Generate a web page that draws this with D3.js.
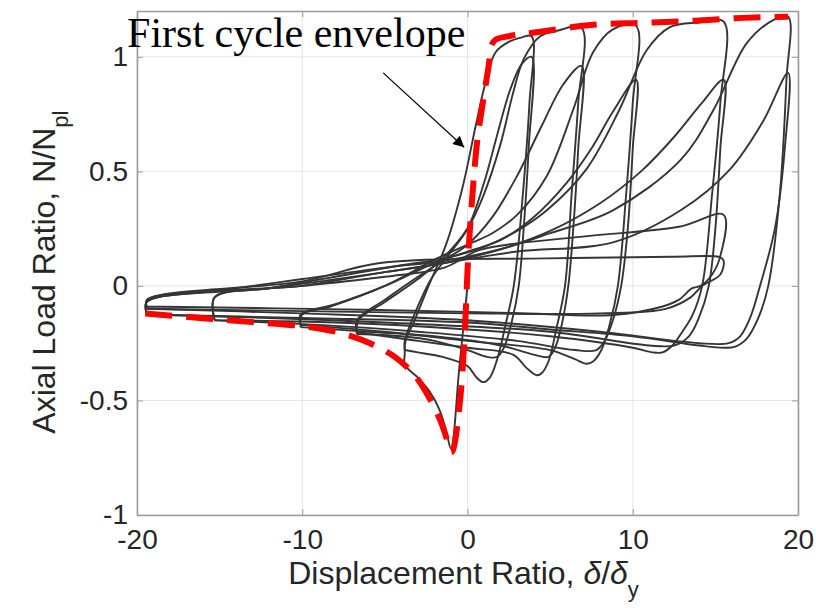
<!DOCTYPE html>
<html>
<head>
<meta charset="utf-8">
<script src="https://cdn.jsdelivr.net/npm/d3@7"></script>
<style>
  body { margin: 0; background: #fff; }
  svg { display: block; }
</style>
</head>
<body>
<svg id="chart"></svg>
<script>
const width = 816, height = 608;
const margin = { top: 11, right: 18, bottom: 93, left: 137 };

// axis ticks
const xTicks = [-20, -10, 0, 10, 20];
const yTicks = [-1, -0.5, 0, 0.5, 1];

// first cycle envelope (red dashed), [delta/delta_y, N/Npl]
const envelope = [[-19.5,-0.12],[-16.2,-0.14],[-13.2,-0.157],[-10.1,-0.175],[-7.7,-0.205],[-5.9,-0.25],
  [-4.4,-0.31],[-3.2,-0.39],[-2.3,-0.49],[-1.66,-0.585],[-1.24,-0.67],[-1.0,-0.725],[-0.9,-0.72],
  [-0.45,-0.5],[-0.15,-0.18],[0.03,0.11],[0.3,0.4],[0.6,0.64],[0.95,0.81],[1.3,0.97],[1.45,1.05],
  [1.7,1.075],[2.5,1.09],[4.4,1.109],[7.6,1.14],[10.6,1.148],[13.6,1.157],[16.7,1.17],[19.4,1.175]];

// hysteresis cycles (grey)
const cycle1 = [[0,0],[-0.5,-0.36],[-1.0,-0.71],[-1.3,-0.63],[-1.7,-0.54],[-2.3,-0.46],[-3.0,-0.40],[-3.8,-0.345],
  [-3.8,-0.30],[-3.75,-0.24],[-3.2,-0.15],[-2.3,0.01],[-1.3,0.18],[-0.3,0.43],[0.5,0.70],[1.1,0.89],[1.7,1.02],
  [2.5,1.065],[3.3,1.085],[3.88,1.09],[3.75,0.8],[3.35,0.4],[2.8,0.0],[2.3,-0.17],[1.8,-0.32],[1.35,-0.40],
  [0.95,-0.42],[0.55,-0.40],[0.0,-0.35],[-1.5,-0.31],[-3.0,-0.29],[-3.8,-0.28]];
const cycle2 = [[-3.8,-0.28],[-3.8,-0.24],[-3.3,-0.14],[-2.2,0.03],[-1.2,0.13],[0,0.25],[1.0,0.45],[1.8,0.66],
  [2.6,0.86],[3.3,0.97],[3.88,1.0],[3.7,0.6],[3.4,0.25],[3.1,0.0],[2.7,-0.15],[2.2,-0.27],[1.8,-0.31],
  [1.2,-0.31],[0,-0.28],[-2,-0.24],[-4,-0.22],[-6.7,-0.21]];
const cycle3 = [[-6.7,-0.21],[-6.6,-0.15],[-5,-0.07],[-3,0.03],[-1.5,0.12],[0,0.25],[0.94,0.39],[2.0,0.62],
  [2.75,0.84],[3.4,0.99],[4.4,1.09],[5.5,1.115],[6.9,1.127],[6.7,0.8],[6.3,0.4],[5.9,0.0],[5.4,-0.18],
  [4.9,-0.33],[4.5,-0.38],[4.2,-0.39],[3.6,-0.36],[2.75,-0.30],[0,-0.27],[-3,-0.24],[-5,-0.22],[-6.7,-0.2]];
const cycle4 = [[-6.7,-0.2],[-6.7,-0.15],[-5,-0.06],[-3,0.04],[-1.5,0.11],[0,0.18],[1.5,0.3],[3,0.48],
  [4.5,0.7],[5.8,0.88],[6.9,0.96],[6.7,0.6],[6.4,0.25],[6.1,0.0],[5.7,-0.17],[5.3,-0.27],[4.9,-0.31],
  [4,-0.3],[2,-0.26],[-2,-0.22],[-6,-0.2],[-10.1,-0.18]];
const cycle5 = [[-10.1,-0.18],[-10.0,-0.125],[-8.3,-0.09],[-5,0.0],[-1.85,0.12],[0,0.18],[1.5,0.23],
  [3.0,0.31],[4.8,0.48],[6.4,0.77],[7.6,1.02],[8.8,1.12],[10.2,1.135],[10.0,0.8],[9.6,0.4],[9.1,0.0],
  [8.6,-0.17],[8.1,-0.28],[7.6,-0.33],[7.2,-0.34],[6.5,-0.32],[5,-0.28],[0,-0.24],[-5,-0.2],[-10.1,-0.17]];
const cycle6 = [[-10.1,-0.17],[-10.1,-0.125],[-8,-0.08],[-5,0.0],[-2,0.1],[0,0.15],[2,0.2],[4,0.3],
  [6,0.45],[7.5,0.6],[8.8,0.76],[10.2,0.9],[10.0,0.6],[9.7,0.25],[9.3,0.0],[8.8,-0.15],[8.3,-0.24],
  [7.8,-0.28],[6.5,-0.28],[3,-0.24],[-3,-0.2],[-9,-0.17],[-15.3,-0.15]];
const cycle7 = [[-15.3,-0.15],[-15.3,-0.05],[-12,-0.01],[-8,0.04],[-4,0.09],[-1.4,0.12],[1,0.17],[3,0.24],
  [4.8,0.33],[7.2,0.51],[9.2,0.77],[10.85,1.03],[12.25,1.13],[14,1.15],[15.5,1.154],[15.3,0.8],[14.8,0.4],
  [14.2,0.0],[13.6,-0.13],[13.0,-0.2],[12.4,-0.26],[11.8,-0.29],[11.2,-0.29],[10,-0.27],[5,-0.22],
  [0,-0.19],[-8,-0.16],[-15.3,-0.15]];
const cycle8 = [[-15.3,-0.15],[-15.3,-0.05],[-10,0.0],[-5,0.06],[-1.4,0.1],[2,0.16],[5,0.24],[8,0.36],
  [10.5,0.5],[12.5,0.65],[14.2,0.8],[15.5,0.9],[15.3,0.6],[15.0,0.25],[14.6,0.0],[14.0,-0.14],[13.4,-0.22],
  [12.5,-0.26],[11,-0.26],[5,-0.2],[-5,-0.16],[-12,-0.14],[-19.4,-0.125]];
const cycle9 = [[-19.4,-0.125],[-19.4,-0.07],[-15,-0.02],[-10,0.03],[-5,0.08],[-1.4,0.11],[2,0.16],[5,0.23],
  [8.8,0.33],[12.9,0.55],[14.9,0.77],[16.9,1.06],[18.5,1.16],[19.4,1.175],[19.3,0.9],[18.9,0.4],[18.2,0.0],
  [17.6,-0.14],[16.9,-0.23],[16.2,-0.265],[15.5,-0.27],[14,-0.26],[10,-0.22],[5,-0.19],[0,-0.16],
  [-10,-0.14],[-19.4,-0.125]];
const cycle10 = [[-19.4,-0.125],[-19.4,-0.07],[-12,-0.01],[-5,0.06],[-1.4,0.1],[3,0.15],[8.8,0.19],
  [12.9,0.33],[15.9,0.51],[17.9,0.72],[19.4,0.93],[19.2,0.6],[18.6,0.25],[17.7,0.0],[17.1,-0.14],
  [16.5,-0.22],[15.8,-0.25],[14,-0.25],[8,-0.2],[0,-0.15],[-10,-0.12],[-19.4,-0.1]];
const cycle11 = [[-19.4,-0.1],[-19.4,-0.065],[-10,0.0],[-5,0.04],[-1.4,0.08],[0.75,0.157],[6.8,0.214],
  [12.8,0.258],[15.5,0.31],[15.3,0.13],[14.8,0.05],[14.1,0.0],[13.6,-0.01],[12.8,-0.06],[11.8,-0.09],
  [8.8,-0.127],[2.75,-0.118],[-5.3,-0.105],[-19.4,-0.09]];
const cycle12 = [[-19.4,-0.09],[-19.4,-0.06],[-10,0.02],[-5.3,0.1],[4.8,0.12],[12.4,0.127],[15.3,0.125],
  [15.5,0.11],[15.3,0.05],[14.2,0.0],[13.5,-0.05],[12,-0.1],[8,-0.12],[0,-0.12],[-10,-0.11],[-19.4,-0.1]];

const cycles = [cycle1, cycle2, cycle3, cycle4, cycle5, cycle6, cycle7, cycle8, cycle9, cycle10, cycle11, cycle12];

// annotation: label and arrow, in data units
const noteText = "First cycle envelope";
const notePos = [-20.6, 1.045];
const arrowFrom = [-5.1, 0.93];
const arrowTo = [-0.2, 0.605];

const svg = d3.select("#chart")
    .attr("width", width)
    .attr("height", height)
    .style("background", "#ffffff");

const x = d3.scaleLinear()
    .domain([-20, 20])
    .range([margin.left, width - margin.right]);

const y = d3.scaleLinear()
    .domain([-1, 1.2])
    .range([height - margin.bottom, margin.top]);

// grid
svg.append("g")
    .selectAll("line")
    .data(xTicks)
    .enter().append("line")
    .attr("x1", d => x(d)).attr("x2", d => x(d))
    .attr("y1", y.range()[0]).attr("y2", y.range()[1])
    .attr("stroke", "#e6e6e6").attr("stroke-width", 1);

svg.append("g")
    .selectAll("line")
    .data(yTicks)
    .enter().append("line")
    .attr("y1", d => y(d)).attr("y2", d => y(d))
    .attr("x1", x.range()[0]).attr("x2", x.range()[1])
    .attr("stroke", "#e6e6e6").attr("stroke-width", 1);

// axes (MATLAB style box with inward ticks)
const axisColor = "#9a9a9a";
const textColor = "#262626";
const plainFormat = d => String(d);

function styleAxis(g) {
    g.select(".domain").attr("stroke", axisColor).attr("stroke-width", 1.6);
    g.selectAll(".tick line").attr("stroke", axisColor);
    g.selectAll(".tick text")
        .attr("fill", textColor)
        .style("font-family", "'Liberation Sans', Arial, Helvetica, sans-serif")
        .style("font-size", "28px");
}

svg.append("g")
    .attr("transform", `translate(0, ${y(-1)})`)
    .call(d3.axisBottom(x).tickValues(xTicks).tickSizeInner(-6).tickSizeOuter(0).tickPadding(14).tickFormat(plainFormat))
    .call(styleAxis);

svg.append("g")
    .attr("transform", `translate(${x(-20)}, 0)`)
    .call(d3.axisLeft(y).tickValues(yTicks).tickSizeInner(-6).tickSizeOuter(0).tickPadding(9).tickFormat(plainFormat))
    .call(styleAxis);

svg.append("g")
    .attr("transform", `translate(0, ${y(1.2)})`)
    .call(d3.axisTop(x).tickValues(xTicks).tickSizeInner(-6).tickSizeOuter(0).tickFormat(""))
    .call(styleAxis);

svg.append("g")
    .attr("transform", `translate(${x(20)}, 0)`)
    .call(d3.axisRight(y).tickValues(yTicks).tickSizeInner(-6).tickSizeOuter(0).tickFormat(""))
    .call(styleAxis);

// hysteresis loops
const line = d3.line()
    .x(d => x(d[0]))
    .y(d => y(d[1]))
    .curve(d3.curveCatmullRom.alpha(0.5));

svg.append("g")
    .selectAll("path")
    .data(cycles)
    .enter().append("path")
    .attr("d", line)
    .attr("fill", "none")
    .attr("stroke", "#353535")
    .attr("stroke-width", 1.9)
    .attr("stroke-linejoin", "round");

// first cycle envelope
svg.append("path")
    .datum(envelope)
    .attr("d", line)
    .attr("fill", "none")
    .attr("stroke", "#ff0000")
    .attr("stroke-width", 6)
    .attr("stroke-dasharray", "27,14");

// axis labels
const labelFont = "'Liberation Sans', Arial, Helvetica, sans-serif";

const xLabel = svg.append("text")
    .attr("x", x(0) - 4)
    .attr("y", 584)
    .attr("text-anchor", "middle")
    .attr("fill", textColor)
    .style("font-family", labelFont)
    .style("font-size", "32px");
xLabel.append("tspan").text("Displacement Ratio, ");
xLabel.append("tspan").style("font-style", "italic").text("δ");
xLabel.append("tspan").text("/");
xLabel.append("tspan").style("font-style", "italic").text("δ");
xLabel.append("tspan").attr("dy", 13).style("font-size", "22px").text("y");

const yLabel = svg.append("text")
    .attr("transform", `translate(55, ${y(0.06)}) rotate(-90)`)
    .attr("text-anchor", "middle")
    .attr("fill", textColor)
    .style("font-family", labelFont)
    .style("font-size", "32px");
yLabel.append("tspan").text("Axial Load Ratio, N/N");
yLabel.append("tspan").attr("dy", 13).style("font-size", "22px").text("pl");

// annotation
svg.append("text")
    .attr("x", x(notePos[0]))
    .attr("y", y(notePos[1]))
    .attr("fill", "#000")
    .style("font-family", "'Liberation Serif', 'Times New Roman', serif")
    .style("font-size", "42px")
    .text(noteText);

svg.append("defs").append("marker")
    .attr("id", "head")
    .attr("viewBox", "0 0 10 10")
    .attr("refX", 10).attr("refY", 5)
    .attr("markerWidth", 15).attr("markerHeight", 11)
    .attr("markerUnits", "userSpaceOnUse")
    .attr("orient", "auto")
    .append("path")
    .attr("d", "M0,0 L10,5 L0,10 Z")
    .attr("fill", "#000");

svg.append("line")
    .attr("x1", x(arrowFrom[0])).attr("y1", y(arrowFrom[1]))
    .attr("x2", x(arrowTo[0])).attr("y2", y(arrowTo[1]))
    .attr("stroke", "#000")
    .attr("stroke-width", 1.2)
    .attr("marker-end", "url(#head)");
</script>
</body>
</html>
